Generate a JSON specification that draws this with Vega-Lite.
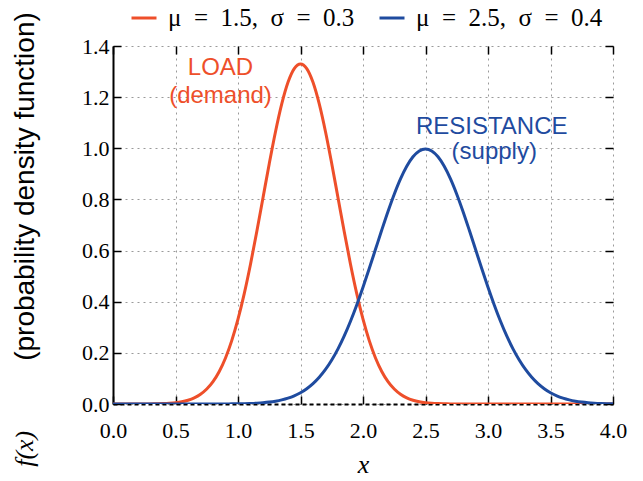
{
  "$schema": "https://vega.github.io/schema/vega-lite/v6.json",
  "autosize": {"type": "none"},
  "width": 500,
  "height": 358,
  "padding": {"left": 113, "top": 46, "right": 30, "bottom": 77},
  "background": "white",
  "config": {
    "view": {"stroke": null},
    "axis": {
      "labelFont": "Liberation Serif",
      "labelFontSize": 22,
      "labelColor": "black",
      "labelFlush": false,
      "tickColor": "black",
      "tickWidth": 1.5,
      "tickSize": -8,
      "domainColor": "black",
      "gridColor": "#9a9a9a",
      "gridDash": [2, 4],
      "gridWidth": 1
    }
  },
  "datasets": {
    "curves": [
      {"x": 0.00, "a": 0, "b": 0},
      {"x": 0.05, "a": 0, "b": 0},
      {"x": 0.10, "a": 0, "b": 0},
      {"x": 0.15, "a": 0, "b": 0},
      {"x": 0.20, "a": 0.0001, "b": 0},
      {"x": 0.25, "a": 0.0002, "b": 0},
      {"x": 0.30, "a": 0.0004, "b": 0},
      {"x": 0.35, "a": 0.0009, "b": 0},
      {"x": 0.40, "a": 0.0016, "b": 0},
      {"x": 0.45, "a": 0.0029, "b": 0},
      {"x": 0.50, "a": 0.0051, "b": 0},
      {"x": 0.55, "a": 0.0088, "b": 0},
      {"x": 0.60, "a": 0.0148, "b": 0},
      {"x": 0.65, "a": 0.0240, "b": 0},
      {"x": 0.70, "a": 0.0380, "b": 0},
      {"x": 0.75, "a": 0.0584, "b": 0},
      {"x": 0.80, "a": 0.0874, "b": 0.0001},
      {"x": 0.85, "a": 0.1272, "b": 0.0002},
      {"x": 0.90, "a": 0.1800, "b": 0.0003},
      {"x": 0.95, "a": 0.2477, "b": 0.0005},
      {"x": 1.00, "a": 0.3316, "b": 0.0009},
      {"x": 1.05, "a": 0.4317, "b": 0.0014},
      {"x": 1.10, "a": 0.5467, "b": 0.0022},
      {"x": 1.15, "a": 0.6733, "b": 0.0034},
      {"x": 1.20, "a": 0.8066, "b": 0.0051},
      {"x": 1.25, "a": 0.9397, "b": 0.0076},
      {"x": 1.30, "a": 1.0648, "b": 0.0111},
      {"x": 1.35, "a": 1.1735, "b": 0.0160},
      {"x": 1.40, "a": 1.2579, "b": 0.0227},
      {"x": 1.45, "a": 1.3115, "b": 0.0318},
      {"x": 1.50, "a": 1.3298, "b": 0.0438},
      {"x": 1.55, "a": 1.3115, "b": 0.0594},
      {"x": 1.60, "a": 1.2579, "b": 0.0794},
      {"x": 1.65, "a": 1.1735, "b": 0.1043},
      {"x": 1.70, "a": 1.0648, "b": 0.1350},
      {"x": 1.75, "a": 0.9397, "b": 0.1720},
      {"x": 1.80, "a": 0.8066, "b": 0.2157},
      {"x": 1.85, "a": 0.6733, "b": 0.2663},
      {"x": 1.90, "a": 0.5467, "b": 0.3238},
      {"x": 1.95, "a": 0.4317, "b": 0.3875},
      {"x": 2.00, "a": 0.3316, "b": 0.4566},
      {"x": 2.05, "a": 0.2477, "b": 0.5297},
      {"x": 2.10, "a": 0.1800, "b": 0.6049},
      {"x": 2.15, "a": 0.1272, "b": 0.6801},
      {"x": 2.20, "a": 0.0874, "b": 0.7529},
      {"x": 2.25, "a": 0.0584, "b": 0.8204},
      {"x": 2.30, "a": 0.0380, "b": 0.8802},
      {"x": 2.35, "a": 0.0240, "b": 0.9297},
      {"x": 2.40, "a": 0.0148, "b": 0.9667},
      {"x": 2.45, "a": 0.0088, "b": 0.9896},
      {"x": 2.50, "a": 0.0051, "b": 0.9974},
      {"x": 2.55, "a": 0.0029, "b": 0.9896},
      {"x": 2.60, "a": 0.0016, "b": 0.9667},
      {"x": 2.65, "a": 0.0009, "b": 0.9297},
      {"x": 2.70, "a": 0.0004, "b": 0.8802},
      {"x": 2.75, "a": 0.0002, "b": 0.8204},
      {"x": 2.80, "a": 0.0001, "b": 0.7529},
      {"x": 2.85, "a": 0, "b": 0.6801},
      {"x": 2.90, "a": 0, "b": 0.6049},
      {"x": 2.95, "a": 0, "b": 0.5297},
      {"x": 3.00, "a": 0, "b": 0.4566},
      {"x": 3.05, "a": 0, "b": 0.3875},
      {"x": 3.10, "a": 0, "b": 0.3238},
      {"x": 3.15, "a": 0, "b": 0.2663},
      {"x": 3.20, "a": 0, "b": 0.2157},
      {"x": 3.25, "a": 0, "b": 0.1720},
      {"x": 3.30, "a": 0, "b": 0.1350},
      {"x": 3.35, "a": 0, "b": 0.1043},
      {"x": 3.40, "a": 0, "b": 0.0794},
      {"x": 3.45, "a": 0, "b": 0.0594},
      {"x": 3.50, "a": 0, "b": 0.0438},
      {"x": 3.55, "a": 0, "b": 0.0318},
      {"x": 3.60, "a": 0, "b": 0.0227},
      {"x": 3.65, "a": 0, "b": 0.0160},
      {"x": 3.70, "a": 0, "b": 0.0111},
      {"x": 3.75, "a": 0, "b": 0.0076},
      {"x": 3.80, "a": 0, "b": 0.0051},
      {"x": 3.85, "a": 0, "b": 0.0034},
      {"x": 3.90, "a": 0, "b": 0.0022},
      {"x": 3.95, "a": 0, "b": 0.0014},
      {"x": 4.00, "a": 0, "b": 0.0009}
    ],
    "notes": [
      {"x": 0.86, "y": 1.315, "label": "LOAD", "s": "a"},
      {"x": 0.86, "y": 1.205, "label": "(demand)", "s": "a"},
      {"x": 3.03, "y": 1.085, "label": "RESISTANCE", "s": "b"},
      {"x": 3.05, "y": 0.985, "label": "(supply)", "s": "b"}
    ],
    "ylab": [
      {"x": -0.704, "y": -0.175, "label": "f(x)"}
    ]
  },
  "layer": [
    {
      "data": {"name": "curves"},
      "transform": [{"fold": ["a", "b"], "as": ["s", "v"]}],
      "mark": {"type": "line", "strokeWidth": 3, "clip": true, "interpolate": "monotone"},
      "encoding": {
        "x": {
          "field": "x", "type": "quantitative",
          "scale": {"domain": [0, 4], "nice": false, "zero": false},
          "axis": {
            "orient": "bottom",
            "values": [0, 0.5, 1, 1.5, 2, 2.5, 3, 3.5, 4],
            "format": ".1f",
            "labelPadding": 24,
            "domainWidth": 2,
            "domainDash": [4, 3],
            "grid": true,
            "title": "x",
            "titleFont": "Liberation Serif",
            "titleFontStyle": "italic",
            "titleFontWeight": "normal",
            "titleFontSize": 26,
            "titlePadding": 10
          }
        },
        "y": {
          "field": "v", "type": "quantitative",
          "scale": {"domain": [0, 1.4], "nice": false},
          "axis": {
            "orient": "left",
            "values": [0, 0.2, 0.4, 0.6, 0.8, 1, 1.2, 1.4],
            "format": ".1f",
            "labelPadding": 12,
            "domainWidth": 2,
            "grid": true,
            "title": "(probability density function)",
            "titleFont": "Liberation Sans",
            "titleFontWeight": "normal",
            "titleFontSize": 28,
            "titleColor": "black",
            "titleX": -88,
            "titleY": 140,
            "titleBaseline": "middle"
          }
        },
        "color": {
          "field": "s", "type": "nominal",
          "scale": {"domain": ["a", "b"], "range": ["#EE4F2A", "#1F4B9F"]},
          "legend": {
            "orient": "none",
            "legendX": 17,
            "legendY": -42,
            "direction": "horizontal",
            "title": null,
            "symbolType": "stroke",
            "symbolSize": 625,
            "symbolStrokeWidth": 3,
            "labelFont": "Liberation Serif",
            "labelFontSize": 25,
            "labelColor": "black",
            "labelOffset": 10,
            "columnPadding": 18,
            "labelLimit": 400,
            "labelExpr": "datum.value == 'a' ? 'μ\u2002=\u20021.5,\u2002σ\u2002=\u20020.3' : 'μ\u2002=\u20022.5,\u2002σ\u2002=\u20020.4'"
          }
        }
      }
    },
    {
      "data": {"name": "notes"},
      "mark": {"type": "text", "font": "Liberation Sans", "fontSize": 24, "align": "center", "baseline": "middle"},
      "encoding": {
        "x": {
          "field": "x", "type": "quantitative",
          "scale": {"domain": [0, 4], "nice": false, "zero": false},
          "axis": {"orient": "top", "values": [0, 0.5, 1, 1.5, 2, 2.5, 3, 3.5, 4], "labels": false, "domain": false, "grid": false, "title": null}
        },
        "y": {
          "field": "y", "type": "quantitative",
          "scale": {"domain": [0, 1.4], "nice": false},
          "axis": {"orient": "right", "values": [0, 0.2, 0.4, 0.6, 0.8, 1, 1.2, 1.4], "labels": false, "domain": false, "grid": false, "title": null}
        },
        "text": {"field": "label"},
        "color": {"field": "s", "type": "nominal", "legend": null}
      }
    },
    {
      "data": {"name": "ylab"},
      "mark": {"type": "text", "font": "Liberation Serif", "fontStyle": "italic", "fontSize": 26, "angle": 270, "align": "center", "baseline": "middle", "clip": false, "color": "black"},
      "encoding": {
        "x": {"field": "x", "type": "quantitative", "scale": {"domain": [0, 4], "nice": false, "zero": false}, "axis": null},
        "y": {"field": "y", "type": "quantitative", "scale": {"domain": [0, 1.4], "nice": false}, "axis": null},
        "text": {"field": "label"}
      }
    }
  ],
  "resolve": {"axis": {"x": "independent", "y": "independent"}}
}
